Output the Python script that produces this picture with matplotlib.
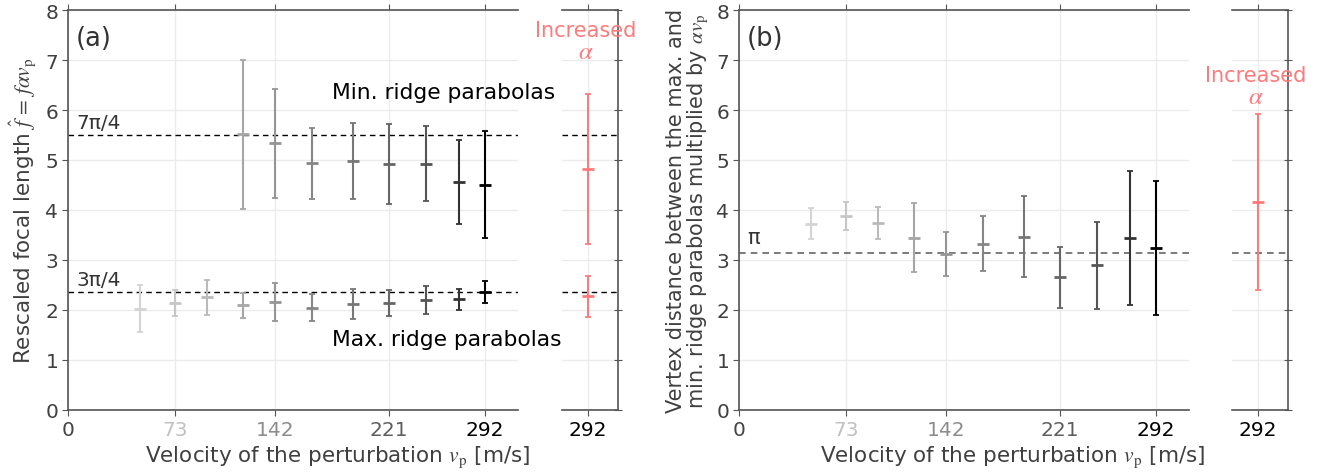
import numpy as np
import matplotlib
matplotlib.use("Agg")
import matplotlib.pyplot as plt

plt.rcParams['font.family'] = ['DejaVu Sans']
plt.rcParams['mathtext.fontset'] = 'stix'

# ---------------- data ----------------
x_pos = [50.4, 74.9, 97.3, 122.5, 144.9, 170.8, 199.6, 224.8, 250.7, 273.8, 292.0]
tick_pos = [0, 74.9, 144.9, 224.8, 292.0]
tick_labels = ['0', '73', '142', '221', '292']
tick_colors = ['#444444', '#c0c0c0', '#8c8c8c', '#5e5e5e', '#000000']
point_colors = ['#d4d4d4', '#c6c6c6', '#bababa', '#a6a6a6', '#959595', '#868686',
                '#777777', '#666666', '#555555', '#333333', '#000000']

# (a) max ridge parabolas
max_mean = [2.03, 2.15, 2.26, 2.11, 2.17, 2.05, 2.13, 2.15, 2.20, 2.23, 2.37]
max_low = [1.57, 1.88, 1.91, 1.85, 1.78, 1.79, 1.83, 1.89, 1.93, 2.00, 2.15]
max_high = [2.50, 2.40, 2.60, 2.35, 2.54, 2.33, 2.42, 2.41, 2.48, 2.43, 2.58]
# (a) min ridge parabolas (from 4th velocity on)
min_idx = [3, 4, 5, 6, 7, 8, 9, 10]
min_mean = [5.53, 5.34, 4.95, 4.98, 4.93, 4.93, 4.57, 4.51]
min_low = [4.02, 4.25, 4.23, 4.22, 4.13, 4.19, 3.73, 3.45]
min_high = [7.01, 6.42, 5.65, 5.75, 5.73, 5.68, 5.41, 5.59]
# (a) increased alpha at 292
inc_max = (2.28, 1.87, 2.68)
inc_min = (4.83, 3.32, 6.33)

# (b) vertex distance
vd_mean = [3.73, 3.88, 3.75, 3.45, 3.12, 3.33, 3.47, 2.67, 2.91, 3.45, 3.25]
vd_low = [3.43, 3.61, 3.43, 2.77, 2.68, 2.78, 2.67, 2.05, 2.03, 2.11, 1.91]
vd_high = [4.04, 4.17, 4.07, 4.15, 3.56, 3.88, 4.28, 3.27, 3.77, 4.78, 4.59]
inc_vd = (4.16, 2.40, 5.92)

red = '#ff7b7b'
spine_c = '#555555'
grid_c = '#ebebeb'
text_c = '#404040'

W, H = 1333, 477
fig = plt.figure(figsize=(W / 100, H / 100), dpi=100)


def px_axes(l, r, t, b):
    return fig.add_axes([l / W, (H - b) / H, (r - l) / W, (b - t) / H])


def style_main(ax):
    ax.set_xlim(0, 315)
    ax.set_ylim(0, 8)
    ax.set_yticks(range(9))
    ax.set_xticks(tick_pos)
    ax.set_xticklabels(tick_labels)
    ax.spines['right'].set_visible(False)
    for s in ['left', 'top', 'bottom']:
        ax.spines[s].set_color(spine_c)
        ax.spines[s].set_linewidth(1.2)
    ax.tick_params(axis='both', direction='out', length=4, color=spine_c,
                   labelsize=14.5, labelcolor=text_c, top=True, pad=3)
    for lab, c in zip(ax.get_xticklabels(), tick_colors):
        lab.set_color(c)
    ax.grid(True, color=grid_c, lw=1)
    ax.set_axisbelow(True)


def style_side(ax):
    ax.set_xlim(273.5, 313)
    ax.set_ylim(0, 8)
    ax.set_yticks(range(9))
    ax.set_xticks([292])
    ax.set_xticklabels(['292'])
    ax.spines['left'].set_visible(False)
    for s in ['right', 'top', 'bottom']:
        ax.spines[s].set_color(spine_c)
        ax.spines[s].set_linewidth(1.2)
    ax.tick_params(axis='y', left=False, right=True, labelleft=False,
                   direction='inout', length=6, color=spine_c)
    ax.tick_params(axis='x', direction='out', length=4, color=spine_c,
                   labelsize=14.5, labelcolor='black', top=True, pad=3)
    ax.grid(True, color=grid_c, lw=1)
    ax.set_axisbelow(True)


def ebar(ax, x, m, lo, hi, c, lw=1.5):
    ax.errorbar([x], [m], yerr=[[m - lo], [hi - m]], fmt='none', ecolor=c,
                elinewidth=lw, capsize=1.9, capthick=1.3, zorder=3)
    ax.plot([x], [m], marker='_', markersize=9, mew=2.0, color=c, zorder=4)


# ---------------- panel (a) ----------------
axa = px_axes(68, 518, 11, 411)
axa_s = px_axes(562, 618, 11, 411)
style_main(axa)
style_side(axa_s)

for ax in (axa, axa_s):
    ax.axhline(7 * np.pi / 4, color='black', ls=(0, (4, 3)), lw=1, zorder=2)
    ax.axhline(3 * np.pi / 4, color='black', ls=(0, (4, 3)), lw=1, zorder=2)

for i in range(len(x_pos)):
    ebar(axa, x_pos[i], max_mean[i], max_low[i], max_high[i], point_colors[i])
for k, i in enumerate(min_idx):
    ebar(axa, x_pos[i], min_mean[k], min_low[k], min_high[k], point_colors[i])
ebar(axa_s, 292, *inc_max, red)
ebar(axa_s, 292, *inc_min, red)

axa.text(5.5, 7.45, '(a)', fontsize=18.5, color='#333333', va='center', ha='left')
axa.text(6, 5.56, '7π/4', fontsize=14.5, color='#333333', va='bottom', ha='left')
axa.text(6, 2.42, '3π/4', fontsize=14.5, color='#333333', va='bottom', ha='left')
axa.text(185, 6.36, 'Min. ridge parabolas', fontsize=15.7, color='black', va='center')
axa.text(184.5, 1.42, 'Max. ridge parabolas', fontsize=15.7, color='black', va='center')
axa.set_ylabel(r'Rescaled focal length $\widehat{f}\,=\,f\alpha v_{\rm p}$', fontsize=15.5,
               color=text_c, labelpad=5)
fig.text(586 / W, 1 - 31 / H, 'Increased', color=red, fontsize=15, ha='center', va='center')
fig.text(586 / W, 1 - 52 / H, r'$\alpha$', color=red, fontsize=18, ha='center', va='center')
fig.text(338 / W, 1 - 457 / H, r'Velocity of the perturbation $v_{\rm p}$ [m/s]',
         fontsize=15.5, color=text_c, ha='center', va='center')

# ---------------- panel (b) ----------------
axb = px_axes(739, 1189, 11, 411)
axb_s = px_axes(1232, 1288, 11, 411)
style_main(axb)
style_side(axb_s)

for ax in (axb, axb_s):
    ax.axhline(np.pi, color='#666666', ls=(0, (4, 3)), lw=1.2, zorder=2)

for i in range(len(x_pos)):
    ebar(axb, x_pos[i], vd_mean[i], vd_low[i], vd_high[i], point_colors[i])
ebar(axb_s, 292, *inc_vd, red)

axb.text(5.5, 7.45, '(b)', fontsize=18.5, color='#333333', va='center', ha='left')
axb.text(6, 3.25, 'π', fontsize=15, color='#333333', va='bottom', ha='left')
axb.set_ylabel('Vertex distance between the max. and\n'
               r'min. ridge parabolas multiplied by $\alpha v_{\rm p}$',
               fontsize=15, color=text_c, labelpad=4, linespacing=1.0)
fig.text(1256 / W, 1 - 76 / H, 'Increased', color=red, fontsize=15, ha='center', va='center')
fig.text(1256 / W, 1 - 97 / H, r'$\alpha$', color=red, fontsize=18, ha='center', va='center')
fig.text(1013 / W, 1 - 457 / H, r'Velocity of the perturbation $v_{\rm p}$ [m/s]',
         fontsize=15.5, color=text_c, ha='center', va='center')

fig.savefig('out.png', dpi=100)
